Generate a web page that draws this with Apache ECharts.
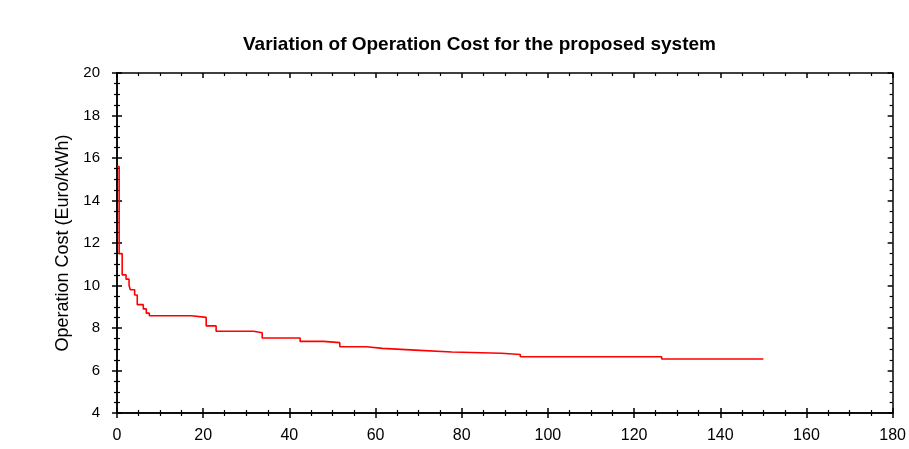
<!DOCTYPE html>
<html>
<head>
<meta charset="utf-8">
<script src="https://cdn.jsdelivr.net/npm/echarts@6/dist/echarts.min.js"></script>
<style>
html,body{margin:0;padding:0;background:#fff;}
#c{width:909px;height:449px;}
</style>
</head>
<body>
<div id="c"></div>
<script>
// Data (step curve breakpoints)
const stepX = [0, 0.5, 1.2, 2.1, 2.8, 3.1, 4.1, 4.7, 6.1, 6.8, 7.5, 17.3, 20.7, 23.0, 31.7, 33.7, 42.5, 47.9, 51.7, 57.9, 61.6, 69.2, 77.7, 89.2, 93.6, 126.4, 150];
const costY = [15.6, 11.5, 10.5, 10.3, 10.0, 9.8, 9.55, 9.1, 8.9, 8.7, 8.58, 8.5, 8.1, 7.85, 7.78, 7.53, 7.37, 7.31, 7.12, 7.04, 6.96, 6.87, 6.81, 6.75, 6.65, 6.54, 6.54];
const titleText = 'Variation of Operation Cost for the proposed system';
const yName = 'Operation Cost (Euro/kWh)';
const xTicks = {min: 0, max: 180, interval: 20};
const yTicks = {min: 4, max: 20, interval: 2};

const pts = stepX.map((x, i) => [x, costY[i]]);
const FONT = '"Liberation Sans", Arial, sans-serif';
const lineStyle = {color: '#000', width: 1.5};

function xAx(pos, inside, labels) {
  return {
    type: 'value', position: pos, min: xTicks.min, max: xTicks.max, interval: xTicks.interval,
    axisLine: {show: true, onZero: false, lineStyle: lineStyle},
    axisTick: {show: true, inside: inside, length: 5, lineStyle: {color: '#000', width: 1.5}},
    minorTick: {show: true, splitNumber: 4, length: 3, lineStyle: {color: '#000', width: 1.2}},
    axisLabel: {show: labels, color: '#000', fontFamily: FONT, fontSize: 16, margin: 15},
    splitLine: {show: false}, minorSplitLine: {show: false}
  };
}
function yAx(pos, inside, labels) {
  const a = {
    type: 'value', position: pos, min: yTicks.min, max: yTicks.max, interval: yTicks.interval,
    axisLine: {show: true, onZero: false, lineStyle: lineStyle},
    axisTick: {show: true, inside: inside, length: 5, lineStyle: {color: '#000', width: 1.5}},
    minorTick: {show: true, splitNumber: 4, length: 3, lineStyle: {color: '#000', width: 1.2}},
    axisLabel: {show: labels, color: '#000', fontFamily: FONT, fontSize: 15, margin: 17},
    splitLine: {show: false}, minorSplitLine: {show: false}
  };
  if (labels) {
    a.name = yName;
    a.nameLocation = 'middle';
    a.nameGap = 45;
    a.nameTextStyle = {color: '#000', fontFamily: FONT, fontSize: 18};
  }
  return a;
}

const chart = echarts.init(document.getElementById('c'), null, {renderer: 'canvas'});
chart.setOption({
  animation: false,
  backgroundColor: '#fff',
  title: {
    text: titleText, left: 243, top: 35, padding: 0,
    textStyle: {color: '#000', fontFamily: FONT, fontSize: 19, fontWeight: 'bold'}
  },
  grid: {left: 117, right: 13, top: 73, bottom: 36, containLabel: false},
  xAxis: [xAx('bottom', false, true), xAx('bottom', true, false), xAx('top', true, false)],
  yAxis: [yAx('left', false, true), yAx('left', true, false), yAx('right', true, false)],
  series: [{
    type: 'line', xAxisIndex: 0, yAxisIndex: 0, data: pts, step: 'end',
    showSymbol: false, symbol: 'none',
    lineStyle: {color: '#ff0000', width: 1.6}
  }]
});
</script>
</body>
</html>
